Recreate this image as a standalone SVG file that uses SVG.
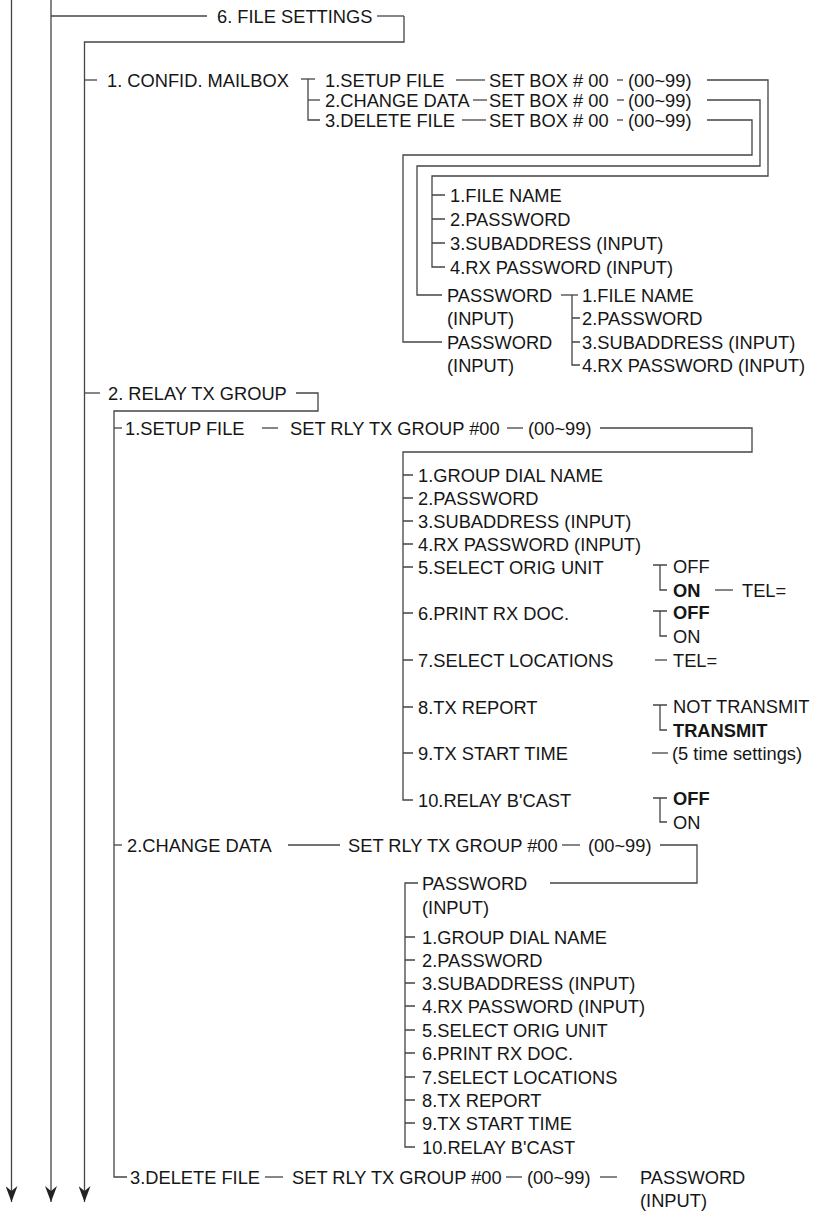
<svg xmlns="http://www.w3.org/2000/svg" width="814" height="1216" viewBox="0 0 814 1216">
<style>
text{font-family:"Liberation Sans",Arial,Helvetica,sans-serif;font-size:18.3px;fill:#161616}
.b{font-weight:bold}
.c path{fill:none;stroke:#444444;stroke-width:1.3}
.c path.arrow{marker-end:url(#arr)}
</style>
<defs>
<marker id="arr" markerUnits="userSpaceOnUse" viewBox="0 0 12 16" refX="6" refY="16" markerWidth="12" markerHeight="16" orient="0">
<path d="M0 0 L6 5 L12 0 L6 16 Z" fill="#222222" stroke="none"/>
</marker>
</defs>
<rect width="814" height="1216" fill="#ffffff"/>

<g id="connectors" class="c">
<path class="arrow" d="M11.5 0 V1202"/>
<path class="arrow" d="M51 0 V1202"/>
<path class="arrow" d="M404 16 V42 H84.5 V1202"/>
<path d="M51 16 H207"/>
<path d="M377 16 H404"/>
<path d="M84.5 80 H97"/>
<path d="M301 79 H315"/>
<path d="M308 79 V120 H320"/>
<path d="M308 100 H320"/>
<path d="M456 80 H485"/>
<path d="M617 80 H623"/>
<path d="M707 80 H768 V176 H432 V267 H445"/>
<path d="M432 195 H445 M432 219 H445 M432 243 H445"/>
<path d="M473 100 H487"/>
<path d="M617 100 H624"/>
<path d="M707 100 H760 V166 H417 V295 H442"/>
<path d="M462 120 H486"/>
<path d="M617 120 H623"/>
<path d="M707 120 H752 V155 H403 V342 H442"/>
<path d="M561 295 H578"/>
<path d="M572 295 V365 H580"/>
<path d="M572 318 H580 M572 342 H580"/>
<path d="M84.5 393 H100"/>
<path d="M296 393 H318 V411 H114 V1177 H127"/>
<path d="M114 428 H122"/>
<path d="M262 428 H278"/>
<path d="M507 428 H523"/>
<path d="M600 428 H752 V452 H403 V800 H413"/>
<path d="M403 475 H413 M403 498 H413 M403 521 H413 M403 544 H413 M403 567 H413 M403 613 H413 M403 660 H413 M403 707 H413 M403 753 H413"/>
<path d="M653 565 H667 M660 565 V590 H667"/>
<path d="M715 590 H733"/>
<path d="M653 611 H667 M660 611 V636 H667"/>
<path d="M655 660 H667"/>
<path d="M653 705 H667 M660 705 V730 H667"/>
<path d="M652 753 H668"/>
<path d="M653 798 H667 M660 798 V822 H667"/>
<path d="M114 845 H122"/>
<path d="M288 845 H340"/>
<path d="M562 845 H580"/>
<path d="M660 845 H697 V883 H550"/>
<path d="M418 883 H405 V1147 H415"/>
<path d="M405 937 H415 M405 960 H415 M405 983 H415 M405 1006 H415 M405 1030 H415 M405 1053 H415 M405 1077 H415 M405 1100 H415 M405 1123 H415"/>
<path d="M265 1177 H283"/>
<path d="M506 1177 H522"/>
<path d="M600 1177 H617"/>
</g>

<g id="file-settings"><text x="217" y="22.5">6. FILE SETTINGS</text></g>

<g id="confid-mailbox"><text x="107" y="86.5">1. CONFID. MAILBOX</text></g>

<g id="confid-setup-file">
<text x="325" y="86.5">1.SETUP FILE</text>
<text x="489" y="86.5">SET BOX # 00</text>
<text x="628" y="86.5">(00~99)</text>
</g>
<g id="confid-change-data">
<text x="325" y="106.5">2.CHANGE DATA</text>
<text x="489" y="106.5">SET BOX # 00</text>
<text x="628" y="106.5">(00~99)</text>
</g>
<g id="confid-delete-file">
<text x="325" y="126.5">3.DELETE FILE</text>
<text x="489" y="126.5">SET BOX # 00</text>
<text x="628" y="126.5">(00~99)</text>
</g>

<g id="confid-setup-list">
<text x="450" y="201.5">1.FILE NAME</text>
<text x="450" y="225.5">2.PASSWORD</text>
<text x="450" y="249.5">3.SUBADDRESS (INPUT)</text>
<text x="450" y="273.5">4.RX PASSWORD (INPUT)</text>
</g>
<g id="confid-change-password">
<text x="447" y="301.5">PASSWORD</text>
<text x="447" y="324.5">(INPUT)</text>
</g>
<g id="confid-delete-password">
<text x="447" y="348.5">PASSWORD</text>
<text x="447" y="371.5">(INPUT)</text>
</g>
<g id="confid-change-list">
<text x="582" y="301.5">1.FILE NAME</text>
<text x="582" y="324.5">2.PASSWORD</text>
<text x="582" y="348.5">3.SUBADDRESS (INPUT)</text>
<text x="582" y="371.5">4.RX PASSWORD (INPUT)</text>
</g>

<g id="relay-tx-group"><text x="108" y="399.5">2. RELAY TX GROUP</text></g>

<g id="relay-setup-file">
<text x="125" y="434.5">1.SETUP FILE</text>
<text x="290" y="434.5">SET RLY TX GROUP #00</text>
<text x="528" y="434.5">(00~99)</text>
</g>
<g id="relay-setup-list">
<text x="418" y="481.5">1.GROUP DIAL NAME</text>
<text x="418" y="504.5">2.PASSWORD</text>
<text x="418" y="527.5">3.SUBADDRESS (INPUT)</text>
<text x="418" y="550.5">4.RX PASSWORD (INPUT)</text>
<text x="418" y="573.5">5.SELECT ORIG UNIT</text>
<text x="418" y="619.5">6.PRINT RX DOC.</text>
<text x="418" y="666.5">7.SELECT LOCATIONS</text>
<text x="418" y="713.5">8.TX REPORT</text>
<text x="418" y="759.5">9.TX START TIME</text>
<text x="418" y="806.5">10.RELAY B'CAST</text>
</g>
<g id="opt-orig-unit">
<text x="673" y="573">OFF</text>
<text x="673" y="596.5" class="b">ON</text>
<text x="742" y="596.5">TEL=</text>
</g>
<g id="opt-print-rx">
<text x="673" y="618.5" class="b">OFF</text>
<text x="673" y="642.5">ON</text>
</g>
<g id="opt-locations"><text x="673" y="666.5">TEL=</text></g>
<g id="opt-tx-report">
<text x="673" y="713">NOT TRANSMIT</text>
<text x="673" y="736.5" class="b">TRANSMIT</text>
</g>
<g id="opt-start-time"><text x="672" y="759.5">(5 time settings)</text></g>
<g id="opt-relay-bcast">
<text x="673" y="805" class="b">OFF</text>
<text x="673" y="828.5">ON</text>
</g>

<g id="relay-change-data">
<text x="127" y="851.5">2.CHANGE DATA</text>
<text x="348" y="851.5">SET RLY TX GROUP #00</text>
<text x="588" y="851.5">(00~99)</text>
</g>
<g id="relay-change-password">
<text x="422" y="889.5">PASSWORD</text>
<text x="422" y="913.5">(INPUT)</text>
</g>
<g id="relay-change-list">
<text x="422" y="943.5">1.GROUP DIAL NAME</text>
<text x="422" y="966.5">2.PASSWORD</text>
<text x="422" y="989.5">3.SUBADDRESS (INPUT)</text>
<text x="422" y="1012.5">4.RX PASSWORD (INPUT)</text>
<text x="422" y="1036.5">5.SELECT ORIG UNIT</text>
<text x="422" y="1059.5">6.PRINT RX DOC.</text>
<text x="422" y="1083.5">7.SELECT LOCATIONS</text>
<text x="422" y="1106.5">8.TX REPORT</text>
<text x="422" y="1129.5">9.TX START TIME</text>
<text x="422" y="1153.5">10.RELAY B'CAST</text>
</g>

<g id="relay-delete-file">
<text x="130" y="1183.5">3.DELETE FILE</text>
<text x="292" y="1183.5">SET RLY TX GROUP #00</text>
<text x="527" y="1183.5">(00~99)</text>
<text x="640" y="1183.5">PASSWORD</text>
<text x="640" y="1206.5">(INPUT)</text>
</g>
</svg>
